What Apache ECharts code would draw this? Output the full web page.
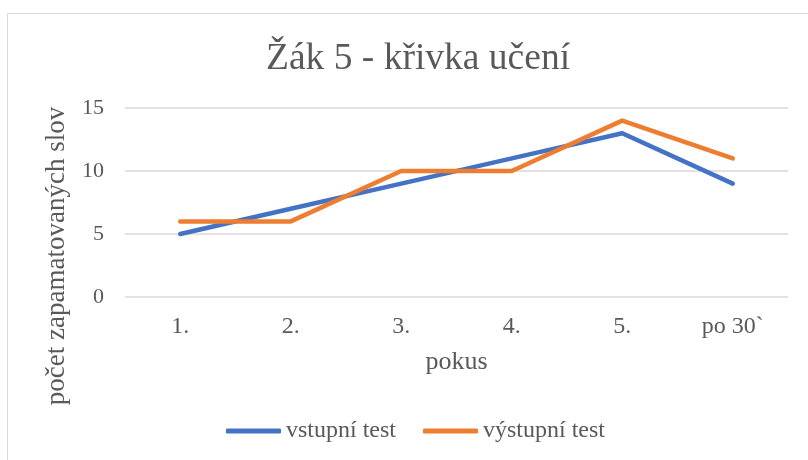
<!DOCTYPE html>
<html><head><meta charset="utf-8">
<script src="https://cdn.jsdelivr.net/npm/echarts@6/dist/echarts.min.js"></script>
<style>html,body{margin:0;padding:0;background:#fff}#c{width:808px;height:460px}</style>
</head><body><div id="c"></div>
<script>
var categories = ['1.', '2.', '3.', '4.', '5.', 'po 30`'];
var vstupni = [5, 7, 9, 11, 13, 9];
var vystupni = [6, 6, 10, 10, 14, 11];
var yTicks = [0, 5, 10, 15];

var font = '"Liberation Serif", "Times New Roman", serif';
var txt = '#595959';
var chart = echarts.init(document.getElementById('c'));
chart.setOption({
  animation: false,
  backgroundColor: '#fff',
  title: {
    text: 'Žák 5 - křivka učení', left: 261, top: 35,
    textStyle: {fontFamily: font, fontSize: 37.5, fontWeight: 'normal', color: txt}
  },
  graphic: [
    {type: 'rect', shape: {x: 7.5, y: 13.5, width: 820, height: 460}, style: {fill: 'none', stroke: '#d9d9d9', lineWidth: 1}},
    {type: 'text', x: 57, y: 256, rotation: Math.PI / 2,
     style: {text: 'počet zapamatovaných slov', fontFamily: font, fontSize: 27, fill: txt, textAlign: 'center', textVerticalAlign: 'middle'}}
  ],
  legend: {
    bottom: 12, left: 221, itemWidth: 55, itemHeight: 5, itemGap: 27,
    icon: 'roundRect',
    textStyle: {fontFamily: font, fontSize: 24, color: txt},
    data: ['vstupní test', 'výstupní test']
  },
  grid: {left: 125, right: 20, top: 108, bottom: 163, containLabel: false},
  xAxis: {
    type: 'category', data: categories, boundaryGap: true,
    name: 'pokus', nameLocation: 'middle', nameGap: 52,
    nameTextStyle: {fontFamily: font, fontSize: 26, color: txt},
    axisLine: {show: false}, axisTick: {show: false},
    axisLabel: {fontFamily: font, fontSize: 24, color: txt, margin: 18}
  },
  yAxis: {
    type: 'value', min: yTicks[0], max: yTicks[yTicks.length - 1], interval: 5,
    axisLine: {show: false}, axisTick: {show: false},
    axisLabel: {fontFamily: font, fontSize: 22, color: txt, margin: 21},
    splitLine: {lineStyle: {color: '#d9d9d9', width: 1.5}}
  },
  series: [
    {name: 'vstupní test', type: 'line', data: vstupni, symbol: 'none',
     lineStyle: {color: '#4472C4', width: 4.5, cap: 'round', join: 'round'}, itemStyle: {color: '#4472C4'}},
    {name: 'výstupní test', type: 'line', data: vystupni, symbol: 'none',
     lineStyle: {color: '#ED7D31', width: 4.5, cap: 'round', join: 'round'}, itemStyle: {color: '#ED7D31'}}
  ]
});
</script></body></html>
